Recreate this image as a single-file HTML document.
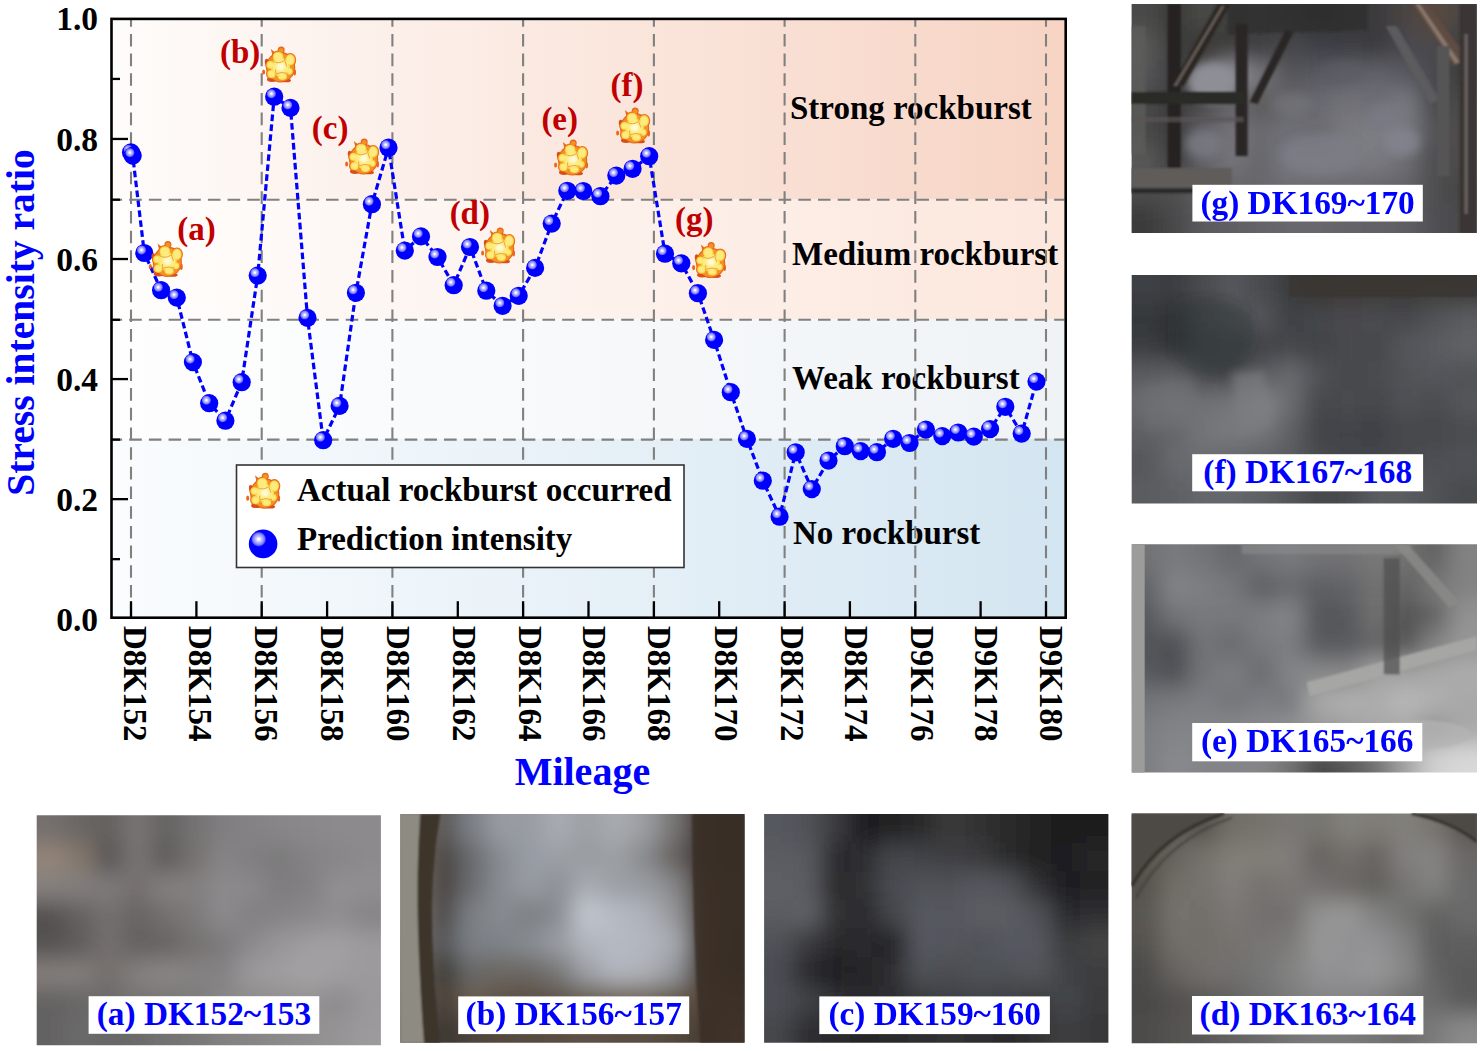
<!DOCTYPE html>
<html><head><meta charset="utf-8"><title>Rockburst prediction</title>
<style>
html,body{margin:0;padding:0;background:#fff;}
body{width:1480px;height:1051px;overflow:hidden;position:relative;font-family:"Liberation Serif",serif;}
svg{position:absolute;left:0;top:0;}
text{font-family:"Liberation Serif",serif;font-weight:bold;}
</style></head><body>
<svg width="1480" height="1051" viewBox="0 0 1480 1051">
<defs>
<linearGradient id="gS" x1="0" x2="1" y1="0" y2="0"><stop offset="0" stop-color="#fefcfb"/><stop offset="0.3" stop-color="#fcefe9"/><stop offset="1" stop-color="#f7d4c4"/></linearGradient>
<linearGradient id="gM" x1="0" x2="1" y1="0" y2="0"><stop offset="0" stop-color="#fffefd"/><stop offset="0.3" stop-color="#fdf6f2"/><stop offset="1" stop-color="#fce7dd"/></linearGradient>
<linearGradient id="gW" x1="0" x2="1" y1="0" y2="0"><stop offset="0" stop-color="#fefefe"/><stop offset="1" stop-color="#eff3f6"/></linearGradient>
<linearGradient id="gN" x1="0" x2="1" y1="0" y2="0"><stop offset="0" stop-color="#fafcfe"/><stop offset="0.45" stop-color="#e9f2f8"/><stop offset="1" stop-color="#d3e5f1"/></linearGradient>
<radialGradient id="sph" cx="0.345" cy="0.335" r="0.27">
<stop offset="0" stop-color="#ffffff"/><stop offset="0.14" stop-color="#f8f8ff"/><stop offset="0.35" stop-color="#c4c4ff"/><stop offset="0.6" stop-color="#9a9aff"/><stop offset="0.8" stop-color="#6c6cff"/><stop offset="0.93" stop-color="#1c1cff"/><stop offset="1" stop-color="#0000ff"/></radialGradient>
<radialGradient id="boomc" cx="0.5" cy="0.5" r="0.5">
<stop offset="0" stop-color="#fffbe0"/><stop offset="0.5" stop-color="#fef6c0"/><stop offset="1" stop-color="#fcec80" stop-opacity="0"/></radialGradient>
<filter id="bsoft" x="-10%" y="-10%" width="120%" height="120%"><feGaussianBlur stdDeviation="0.45"/></filter>
<symbol id="boom" viewBox="0 0 36 38" overflow="visible"><g filter="url(#bsoft)"><g fill="#e8661a"><ellipse cx="19.6" cy="21.6" rx="14.6" ry="15.2"/><ellipse cx="17.2" cy="11.2" rx="6.6" ry="6.4"/><ellipse cx="29.2" cy="14.2" rx="6.0" ry="7.0"/><ellipse cx="9.4" cy="19.2" rx="5.2" ry="5.2"/><ellipse cx="10.6" cy="28.2" rx="5.6" ry="5.4"/><ellipse cx="21.4" cy="30.8" rx="6.0" ry="4.8"/><ellipse cx="28.2" cy="25.6" rx="4.8" ry="4.8"/><circle cx="20.2" cy="4.3" r="3.5"/><path d="M9.8 3.3 L14.8 7.4 L11.6 9.8Z"/><ellipse cx="2.6" cy="26.3" rx="1.5" ry="2.6"/><ellipse cx="33.6" cy="26.5" rx="1.4" ry="3.2"/></g><g fill="#d8501a"><ellipse cx="11" cy="33.8" rx="5" ry="2.4"/><ellipse cx="25.5" cy="34.8" rx="4.5" ry="1.8"/><ellipse cx="5.6" cy="16" rx="1.8" ry="3"/></g><g fill="#f39026"><ellipse cx="19.6" cy="21.8" rx="13.4" ry="14.0"/><ellipse cx="17.2" cy="11.2" rx="5.8" ry="5.6"/><ellipse cx="29.2" cy="14.2" rx="5.2" ry="6.2"/><ellipse cx="9.4" cy="19.2" rx="4.4" ry="4.4"/><ellipse cx="10.6" cy="28.2" rx="4.8" ry="4.6"/><ellipse cx="21.4" cy="30.8" rx="5.2" ry="4.0"/><ellipse cx="28.2" cy="25.6" rx="4.0" ry="4.0"/><circle cx="20.2" cy="4.6" r="2.4"/></g><g fill="#f9dc50"><ellipse cx="17.2" cy="11.2" rx="5.2" ry="5.0"/><ellipse cx="29.2" cy="14.2" rx="4.6" ry="5.6"/><ellipse cx="9.4" cy="19.2" rx="3.8" ry="3.8"/><ellipse cx="10.6" cy="28.2" rx="4.2" ry="4.0"/><ellipse cx="21.4" cy="30.8" rx="4.6" ry="3.4"/><ellipse cx="28.2" cy="25.6" rx="3.4" ry="3.4"/><circle cx="19.4" cy="21.2" r="9.6"/></g><g fill="#fcec80"><ellipse cx="17.2" cy="11.2" rx="4.0" ry="3.8"/><ellipse cx="29.2" cy="14.2" rx="3.4" ry="4.4"/><ellipse cx="9.4" cy="19.2" rx="2.6" ry="2.6"/><ellipse cx="10.6" cy="28.2" rx="3.0" ry="2.8"/><ellipse cx="21.4" cy="30.8" rx="3.4" ry="2.2"/><ellipse cx="28.2" cy="25.6" rx="2.2" ry="2.2"/><circle cx="19.6" cy="21.2" r="8"/></g><circle cx="19.8" cy="20.8" r="6.4" fill="url(#boomc)"/><g fill="none" stroke="#f29a30" stroke-width="0.9" stroke-linecap="round"><path d="M12.2 15.6 Q17 19 22.8 15.2"/><path d="M23.6 8.6 Q22.8 15 25.6 20.4"/><path d="M15.6 27.8 Q21 25.8 26.4 27.6"/><path d="M14.6 24.2 Q15.8 29 14.2 32.8"/></g></g></symbol>
<filter id="pblur" x="-20%" y="-20%" width="140%" height="140%"><feGaussianBlur stdDeviation="11"/></filter>
<filter id="dblur4" x="-20%" y="-20%" width="140%" height="140%"><feGaussianBlur stdDeviation="4"/></filter>
<filter id="dblur" x="-10%" y="-10%" width="120%" height="120%"><feGaussianBlur stdDeviation="1.3"/></filter>
<clipPath id="plotclip"><rect x="111.5" y="18.9" width="954.2" height="598.8"/></clipPath>
</defs>

<g clip-path="url(#plotclip)">
<rect x="111.5" y="18.9" width="954.2" height="180.1" fill="url(#gS)"/>
<rect x="111.5" y="199.0" width="954.2" height="120.1" fill="url(#gM)"/>
<rect x="111.5" y="319.1" width="954.2" height="120.1" fill="url(#gW)"/>
<rect x="111.5" y="439.1" width="954.2" height="178.6" fill="url(#gN)"/>
</g>
<g font-size="33" fill="#000">
<text x="790" y="118.5">Strong rockburst</text>
<text x="792" y="264.5">Medium rockburst</text>
<text x="792" y="388.9">Weak rockburst</text>
<text x="793" y="544.2">No rockburst</text>
</g>
<g stroke="#808080" stroke-width="2.1" stroke-dasharray="12.6 7.08" fill="none">
<line x1="131.0" y1="20.1" x2="131.0" y2="616.5" stroke-dashoffset="5.9"/>
<line x1="261.7" y1="20.1" x2="261.7" y2="616.5" stroke-dashoffset="5.9"/>
<line x1="392.4" y1="20.1" x2="392.4" y2="616.5" stroke-dashoffset="5.9"/>
<line x1="523.1" y1="20.1" x2="523.1" y2="616.5" stroke-dashoffset="5.9"/>
<line x1="653.9" y1="20.1" x2="653.9" y2="616.5" stroke-dashoffset="5.9"/>
<line x1="784.6" y1="20.1" x2="784.6" y2="616.5" stroke-dashoffset="5.9"/>
<line x1="915.3" y1="20.1" x2="915.3" y2="616.5" stroke-dashoffset="5.9"/>
<line x1="1046.0" y1="20.1" x2="1046.0" y2="616.5" stroke-dashoffset="5.9"/>
<line x1="112.7" y1="439.6" x2="1064.5" y2="439.6" stroke-dashoffset="3.2"/>
<line x1="112.7" y1="319.8" x2="1064.5" y2="319.8" stroke-dashoffset="3.2"/>
<line x1="112.7" y1="199.7" x2="1064.5" y2="199.7" stroke-dashoffset="3.2"/>
</g>
<g stroke="#000" stroke-width="2.3" stroke-linecap="butt">
<line x1="131.0" y1="617.7" x2="131.0" y2="601.2"/>
<line x1="196.4" y1="617.7" x2="196.4" y2="601.2"/>
<line x1="261.7" y1="617.7" x2="261.7" y2="601.2"/>
<line x1="327.1" y1="617.7" x2="327.1" y2="601.2"/>
<line x1="392.4" y1="617.7" x2="392.4" y2="601.2"/>
<line x1="457.8" y1="617.7" x2="457.8" y2="601.2"/>
<line x1="523.1" y1="617.7" x2="523.1" y2="601.2"/>
<line x1="588.5" y1="617.7" x2="588.5" y2="601.2"/>
<line x1="653.9" y1="617.7" x2="653.9" y2="601.2"/>
<line x1="719.2" y1="617.7" x2="719.2" y2="601.2"/>
<line x1="784.6" y1="617.7" x2="784.6" y2="601.2"/>
<line x1="849.9" y1="617.7" x2="849.9" y2="601.2"/>
<line x1="915.3" y1="617.7" x2="915.3" y2="601.2"/>
<line x1="980.6" y1="617.7" x2="980.6" y2="601.2"/>
<line x1="1046.0" y1="617.7" x2="1046.0" y2="601.2"/>
<line x1="111.5" y1="559.17" x2="120.0" y2="559.17"/>
<line x1="111.5" y1="499.14" x2="128.0" y2="499.14"/>
<line x1="111.5" y1="439.60" x2="120.0" y2="439.60"/>
<line x1="111.5" y1="379.08" x2="128.0" y2="379.08"/>
<line x1="111.5" y1="319.80" x2="120.0" y2="319.80"/>
<line x1="111.5" y1="259.02" x2="128.0" y2="259.02"/>
<line x1="111.5" y1="199.70" x2="120.0" y2="199.70"/>
<line x1="111.5" y1="138.96" x2="128.0" y2="138.96"/>
<line x1="111.5" y1="78.93" x2="120.0" y2="78.93"/>
</g>
<rect x="236.5" y="465" width="447.5" height="102.5" fill="#fff" stroke="#333" stroke-width="1.6"/>
<use href="#boom" x="245.1" y="471.9" width="36" height="38"/>
<circle cx="263.1" cy="543.9" r="14.3" fill="url(#sph)"/>
<g font-size="33" fill="#000"><text x="297" y="501">Actual rockburst occurred</text><text x="297" y="550.3">Prediction intensity</text></g>
<g stroke="#0000ff" stroke-width="3.2" stroke-dasharray="6.6 3.4" stroke-dashoffset="4.8" fill="none">
<line x1="131.0" y1="152.4" x2="132.7" y2="155.6"/>
<line x1="132.7" y1="155.6" x2="144.3" y2="253.0"/>
<line x1="144.3" y1="253.0" x2="161.1" y2="290.2"/>
<line x1="161.1" y1="290.2" x2="176.8" y2="297.6"/>
<line x1="176.8" y1="297.6" x2="192.9" y2="362.1"/>
<line x1="192.9" y1="362.1" x2="209.2" y2="403.2"/>
<line x1="209.2" y1="403.2" x2="225.4" y2="420.7"/>
<line x1="225.4" y1="420.7" x2="241.7" y2="382.2"/>
<line x1="241.7" y1="382.2" x2="257.7" y2="275.6"/>
<line x1="257.7" y1="275.6" x2="274.2" y2="96.7"/>
<line x1="274.2" y1="96.7" x2="290.5" y2="107.9"/>
<line x1="290.5" y1="107.9" x2="307.5" y2="317.9"/>
<line x1="307.5" y1="317.9" x2="323.2" y2="440.2"/>
<line x1="323.2" y1="440.2" x2="339.6" y2="405.9"/>
<line x1="339.6" y1="405.9" x2="355.9" y2="292.8"/>
<line x1="355.9" y1="292.8" x2="371.9" y2="204.2"/>
<line x1="371.9" y1="204.2" x2="388.5" y2="147.7"/>
<line x1="388.5" y1="147.7" x2="404.8" y2="250.6"/>
<line x1="404.8" y1="250.6" x2="421.0" y2="236.4"/>
<line x1="421.0" y1="236.4" x2="437.5" y2="257.0"/>
<line x1="437.5" y1="257.0" x2="453.7" y2="285.2"/>
<line x1="453.7" y1="285.2" x2="470.0" y2="247.0"/>
<line x1="470.0" y1="247.0" x2="486.3" y2="290.7"/>
<line x1="486.3" y1="290.7" x2="502.6" y2="305.8"/>
<line x1="502.6" y1="305.8" x2="518.7" y2="295.8"/>
<line x1="518.7" y1="295.8" x2="535.1" y2="267.9"/>
<line x1="535.1" y1="267.9" x2="551.7" y2="223.6"/>
<line x1="551.7" y1="223.6" x2="567.3" y2="190.8"/>
<line x1="567.3" y1="190.8" x2="583.3" y2="191.0"/>
<line x1="583.3" y1="191.0" x2="600.4" y2="196.2"/>
<line x1="600.4" y1="196.2" x2="616.3" y2="175.6"/>
<line x1="616.3" y1="175.6" x2="632.6" y2="168.8"/>
<line x1="632.6" y1="168.8" x2="649.2" y2="156.2"/>
<line x1="649.2" y1="156.2" x2="665.0" y2="253.7"/>
<line x1="665.0" y1="253.7" x2="681.3" y2="263.3"/>
<line x1="681.3" y1="263.3" x2="697.9" y2="293.2"/>
<line x1="697.9" y1="293.2" x2="714.1" y2="339.9"/>
<line x1="714.1" y1="339.9" x2="730.8" y2="392.2"/>
<line x1="730.8" y1="392.2" x2="746.9" y2="438.9"/>
<line x1="746.9" y1="438.9" x2="762.8" y2="480.7"/>
<line x1="762.8" y1="480.7" x2="779.6" y2="516.7"/>
<line x1="779.6" y1="516.7" x2="795.7" y2="452.3"/>
<line x1="795.7" y1="452.3" x2="811.8" y2="489.1"/>
<line x1="811.8" y1="489.1" x2="828.5" y2="460.6"/>
<line x1="828.5" y1="460.6" x2="844.8" y2="446.2"/>
<line x1="844.8" y1="446.2" x2="860.7" y2="451.1"/>
<line x1="860.7" y1="451.1" x2="876.9" y2="452.2"/>
<line x1="876.9" y1="452.2" x2="893.2" y2="438.8"/>
<line x1="893.2" y1="438.8" x2="909.6" y2="443.0"/>
<line x1="909.6" y1="443.0" x2="925.9" y2="429.6"/>
<line x1="925.9" y1="429.6" x2="942.3" y2="436.1"/>
<line x1="942.3" y1="436.1" x2="958.2" y2="432.5"/>
<line x1="958.2" y1="432.5" x2="973.8" y2="436.6"/>
<line x1="973.8" y1="436.6" x2="990.1" y2="429.1"/>
<line x1="990.1" y1="429.1" x2="1005.3" y2="406.8"/>
<line x1="1005.3" y1="406.8" x2="1021.7" y2="433.6"/>
<line x1="1021.7" y1="433.6" x2="1036.5" y2="381.6"/>
</g>
<circle cx="131.0" cy="152.4" r="9.1" fill="url(#sph)"/>
<circle cx="132.7" cy="155.6" r="9.1" fill="url(#sph)"/>
<circle cx="144.3" cy="253.0" r="9.1" fill="url(#sph)"/>
<circle cx="161.1" cy="290.2" r="9.1" fill="url(#sph)"/>
<circle cx="176.8" cy="297.6" r="9.1" fill="url(#sph)"/>
<circle cx="192.9" cy="362.1" r="9.1" fill="url(#sph)"/>
<circle cx="209.2" cy="403.2" r="9.1" fill="url(#sph)"/>
<circle cx="225.4" cy="420.7" r="9.1" fill="url(#sph)"/>
<circle cx="241.7" cy="382.2" r="9.1" fill="url(#sph)"/>
<circle cx="257.7" cy="275.6" r="9.1" fill="url(#sph)"/>
<circle cx="274.2" cy="96.7" r="9.1" fill="url(#sph)"/>
<circle cx="290.5" cy="107.9" r="9.1" fill="url(#sph)"/>
<circle cx="307.5" cy="317.9" r="9.1" fill="url(#sph)"/>
<circle cx="323.2" cy="440.2" r="9.1" fill="url(#sph)"/>
<circle cx="339.6" cy="405.9" r="9.1" fill="url(#sph)"/>
<circle cx="355.9" cy="292.8" r="9.1" fill="url(#sph)"/>
<circle cx="371.9" cy="204.2" r="9.1" fill="url(#sph)"/>
<circle cx="388.5" cy="147.7" r="9.1" fill="url(#sph)"/>
<circle cx="404.8" cy="250.6" r="9.1" fill="url(#sph)"/>
<circle cx="421.0" cy="236.4" r="9.1" fill="url(#sph)"/>
<circle cx="437.5" cy="257.0" r="9.1" fill="url(#sph)"/>
<circle cx="453.7" cy="285.2" r="9.1" fill="url(#sph)"/>
<circle cx="470.0" cy="247.0" r="9.1" fill="url(#sph)"/>
<circle cx="486.3" cy="290.7" r="9.1" fill="url(#sph)"/>
<circle cx="502.6" cy="305.8" r="9.1" fill="url(#sph)"/>
<circle cx="518.7" cy="295.8" r="9.1" fill="url(#sph)"/>
<circle cx="535.1" cy="267.9" r="9.1" fill="url(#sph)"/>
<circle cx="551.7" cy="223.6" r="9.1" fill="url(#sph)"/>
<circle cx="567.3" cy="190.8" r="9.1" fill="url(#sph)"/>
<circle cx="583.3" cy="191.0" r="9.1" fill="url(#sph)"/>
<circle cx="600.4" cy="196.2" r="9.1" fill="url(#sph)"/>
<circle cx="616.3" cy="175.6" r="9.1" fill="url(#sph)"/>
<circle cx="632.6" cy="168.8" r="9.1" fill="url(#sph)"/>
<circle cx="649.2" cy="156.2" r="9.1" fill="url(#sph)"/>
<circle cx="665.0" cy="253.7" r="9.1" fill="url(#sph)"/>
<circle cx="681.3" cy="263.3" r="9.1" fill="url(#sph)"/>
<circle cx="697.9" cy="293.2" r="9.1" fill="url(#sph)"/>
<circle cx="714.1" cy="339.9" r="9.1" fill="url(#sph)"/>
<circle cx="730.8" cy="392.2" r="9.1" fill="url(#sph)"/>
<circle cx="746.9" cy="438.9" r="9.1" fill="url(#sph)"/>
<circle cx="762.8" cy="480.7" r="9.1" fill="url(#sph)"/>
<circle cx="779.6" cy="516.7" r="9.1" fill="url(#sph)"/>
<circle cx="795.7" cy="452.3" r="9.1" fill="url(#sph)"/>
<circle cx="811.8" cy="489.1" r="9.1" fill="url(#sph)"/>
<circle cx="828.5" cy="460.6" r="9.1" fill="url(#sph)"/>
<circle cx="844.8" cy="446.2" r="9.1" fill="url(#sph)"/>
<circle cx="860.7" cy="451.1" r="9.1" fill="url(#sph)"/>
<circle cx="876.9" cy="452.2" r="9.1" fill="url(#sph)"/>
<circle cx="893.2" cy="438.8" r="9.1" fill="url(#sph)"/>
<circle cx="909.6" cy="443.0" r="9.1" fill="url(#sph)"/>
<circle cx="925.9" cy="429.6" r="9.1" fill="url(#sph)"/>
<circle cx="942.3" cy="436.1" r="9.1" fill="url(#sph)"/>
<circle cx="958.2" cy="432.5" r="9.1" fill="url(#sph)"/>
<circle cx="973.8" cy="436.6" r="9.1" fill="url(#sph)"/>
<circle cx="990.1" cy="429.1" r="9.1" fill="url(#sph)"/>
<circle cx="1005.3" cy="406.8" r="9.1" fill="url(#sph)"/>
<circle cx="1021.7" cy="433.6" r="9.1" fill="url(#sph)"/>
<circle cx="1036.5" cy="381.6" r="9.1" fill="url(#sph)"/>
<use href="#boom" x="147.7" y="240.2" width="36" height="38"/>
<use href="#boom" x="261.0" y="45.7" width="36" height="38"/>
<use href="#boom" x="344.0" y="137.7" width="36" height="38"/>
<use href="#boom" x="480.0" y="226.7" width="36" height="38"/>
<use href="#boom" x="553.0" y="138.7" width="36" height="38"/>
<use href="#boom" x="615.0" y="106.7" width="36" height="38"/>
<use href="#boom" x="691.0" y="241.3" width="36" height="38"/>
<g font-size="33" fill="#c00000" text-anchor="middle">
<text x="196.6" y="239.6">(a)</text>
<text x="240.2" y="62.9">(b)</text>
<text x="330.1" y="138.8">(c)</text>
<text x="469.8" y="223.8">(d)</text>
<text x="559.7" y="129.6">(e)</text>
<text x="627.1" y="95.8">(f)</text>
<text x="694.3" y="230.3">(g)</text>
</g>
<rect x="111.5" y="18.9" width="954.2" height="598.8" fill="none" stroke="#000" stroke-width="2.6"/>
<g font-size="33.5" fill="#000" text-anchor="end">
<text x="98" y="630.7">0.0</text>
<text x="98" y="510.6">0.2</text>
<text x="98" y="390.6">0.4</text>
<text x="98" y="270.5">0.6</text>
<text x="98" y="150.5">0.8</text>
<text x="98" y="30.4">1.0</text>
</g>
<g font-size="33" fill="#000">
<text transform="translate(135.4,626) rotate(90)" x="0" y="0" dy="0.34em">D8K152</text>
<text transform="translate(200.5,626) rotate(90)" x="0" y="0" dy="0.34em">D8K154</text>
<text transform="translate(266.5,626) rotate(90)" x="0" y="0" dy="0.34em">D8K156</text>
<text transform="translate(331.8,626) rotate(90)" x="0" y="0" dy="0.34em">D8K158</text>
<text transform="translate(397.8,626) rotate(90)" x="0" y="0" dy="0.34em">D8K160</text>
<text transform="translate(464.1,626) rotate(90)" x="0" y="0" dy="0.34em">D8K162</text>
<text transform="translate(529.8,626) rotate(90)" x="0" y="0" dy="0.34em">D8K164</text>
<text transform="translate(593.9,626) rotate(90)" x="0" y="0" dy="0.34em">D8K166</text>
<text transform="translate(659.5,626) rotate(90)" x="0" y="0" dy="0.34em">D8K168</text>
<text transform="translate(726.3,626) rotate(90)" x="0" y="0" dy="0.34em">D8K170</text>
<text transform="translate(792.1,626) rotate(90)" x="0" y="0" dy="0.34em">D8K172</text>
<text transform="translate(856.2,626) rotate(90)" x="0" y="0" dy="0.34em">D8K174</text>
<text transform="translate(921.8,626) rotate(90)" x="0" y="0" dy="0.34em">D9K176</text>
<text transform="translate(986.4,626) rotate(90)" x="0" y="0" dy="0.34em">D9K178</text>
<text transform="translate(1051.3,626) rotate(90)" x="0" y="0" dy="0.34em">D9K180</text>
</g>
<text x="582.4" y="784.8" font-size="40" fill="#0000ff" text-anchor="middle">Mileage</text>
<text transform="translate(33.5,322.5) rotate(-90)" font-size="39.6" fill="#0000ff" text-anchor="middle">Stress intensity ratio</text>
<clipPath id="pcg"><rect x="1131.6" y="4.0" width="345.2" height="229.0"/></clipPath>
<g clip-path="url(#pcg)"><g filter="url(#pblur)">
<rect x="1091.6" y="-36.0" width="69.4" height="69.2" fill="#4a4a48"/>
<rect x="1160.4" y="-36.0" width="29.4" height="69.2" fill="#3a3a38"/>
<rect x="1189.1" y="-36.0" width="29.4" height="69.2" fill="#4a4846"/>
<rect x="1217.9" y="-36.0" width="29.4" height="69.2" fill="#3e3e3e"/>
<rect x="1246.7" y="-36.0" width="29.4" height="69.2" fill="#404040"/>
<rect x="1275.4" y="-36.0" width="29.4" height="69.2" fill="#3a3a3a"/>
<rect x="1304.2" y="-36.0" width="29.4" height="69.2" fill="#2e2e2e"/>
<rect x="1333.0" y="-36.0" width="29.4" height="69.2" fill="#383838"/>
<rect x="1361.7" y="-36.0" width="29.4" height="69.2" fill="#3a3a3e"/>
<rect x="1390.5" y="-36.0" width="29.4" height="69.2" fill="#4a4442"/>
<rect x="1419.3" y="-36.0" width="29.4" height="69.2" fill="#5a4a40"/>
<rect x="1448.0" y="-36.0" width="69.4" height="69.2" fill="#4a4644"/>
<rect x="1091.6" y="32.6" width="69.4" height="29.2" fill="#5a5a58"/>
<rect x="1160.4" y="32.6" width="29.4" height="29.2" fill="#3a3a3a"/>
<rect x="1189.1" y="32.6" width="29.4" height="29.2" fill="#3a3836"/>
<rect x="1217.9" y="32.6" width="29.4" height="29.2" fill="#3a3a3a"/>
<rect x="1246.7" y="32.6" width="29.4" height="29.2" fill="#3e3e40"/>
<rect x="1275.4" y="32.6" width="29.4" height="29.2" fill="#4a4a4e"/>
<rect x="1304.2" y="32.6" width="29.4" height="29.2" fill="#3e4046"/>
<rect x="1333.0" y="32.6" width="29.4" height="29.2" fill="#3e3e44"/>
<rect x="1361.7" y="32.6" width="29.4" height="29.2" fill="#3a3a3e"/>
<rect x="1390.5" y="32.6" width="29.4" height="29.2" fill="#4a4a50"/>
<rect x="1419.3" y="32.6" width="29.4" height="29.2" fill="#4a4a4e"/>
<rect x="1448.0" y="32.6" width="69.4" height="29.2" fill="#404040"/>
<rect x="1091.6" y="61.2" width="69.4" height="29.2" fill="#55555a"/>
<rect x="1160.4" y="61.2" width="29.4" height="29.2" fill="#3e3e3e"/>
<rect x="1189.1" y="61.2" width="29.4" height="29.2" fill="#545456"/>
<rect x="1217.9" y="61.2" width="29.4" height="29.2" fill="#94949a"/>
<rect x="1246.7" y="61.2" width="29.4" height="29.2" fill="#74747a"/>
<rect x="1275.4" y="61.2" width="29.4" height="29.2" fill="#545458"/>
<rect x="1304.2" y="61.2" width="29.4" height="29.2" fill="#5a5a62"/>
<rect x="1333.0" y="61.2" width="29.4" height="29.2" fill="#64646c"/>
<rect x="1361.7" y="61.2" width="29.4" height="29.2" fill="#64646c"/>
<rect x="1390.5" y="61.2" width="29.4" height="29.2" fill="#5a5a62"/>
<rect x="1419.3" y="61.2" width="29.4" height="29.2" fill="#4a4a4e"/>
<rect x="1448.0" y="61.2" width="69.4" height="29.2" fill="#3e3e3e"/>
<rect x="1091.6" y="89.9" width="69.4" height="29.2" fill="#4a4a4a"/>
<rect x="1160.4" y="89.9" width="29.4" height="29.2" fill="#3a3a3a"/>
<rect x="1189.1" y="89.9" width="29.4" height="29.2" fill="#484848"/>
<rect x="1217.9" y="89.9" width="29.4" height="29.2" fill="#646466"/>
<rect x="1246.7" y="89.9" width="29.4" height="29.2" fill="#5a5a5a"/>
<rect x="1275.4" y="89.9" width="29.4" height="29.2" fill="#6a6a70"/>
<rect x="1304.2" y="89.9" width="29.4" height="29.2" fill="#6a6a72"/>
<rect x="1333.0" y="89.9" width="29.4" height="29.2" fill="#727278"/>
<rect x="1361.7" y="89.9" width="29.4" height="29.2" fill="#6e6e76"/>
<rect x="1390.5" y="89.9" width="29.4" height="29.2" fill="#7a7a82"/>
<rect x="1419.3" y="89.9" width="29.4" height="29.2" fill="#4a4a4e"/>
<rect x="1448.0" y="89.9" width="69.4" height="29.2" fill="#4a4a4a"/>
<rect x="1091.6" y="118.5" width="69.4" height="29.2" fill="#4a4a4a"/>
<rect x="1160.4" y="118.5" width="29.4" height="29.2" fill="#3a3a3a"/>
<rect x="1189.1" y="118.5" width="29.4" height="29.2" fill="#64646a"/>
<rect x="1217.9" y="118.5" width="29.4" height="29.2" fill="#74747a"/>
<rect x="1246.7" y="118.5" width="29.4" height="29.2" fill="#6a6a6e"/>
<rect x="1275.4" y="118.5" width="29.4" height="29.2" fill="#707078"/>
<rect x="1304.2" y="118.5" width="29.4" height="29.2" fill="#6a6a70"/>
<rect x="1333.0" y="118.5" width="29.4" height="29.2" fill="#7a7a80"/>
<rect x="1361.7" y="118.5" width="29.4" height="29.2" fill="#7e7e86"/>
<rect x="1390.5" y="118.5" width="29.4" height="29.2" fill="#7a7a82"/>
<rect x="1419.3" y="118.5" width="29.4" height="29.2" fill="#555558"/>
<rect x="1448.0" y="118.5" width="69.4" height="29.2" fill="#4e4a48"/>
<rect x="1091.6" y="147.1" width="69.4" height="29.2" fill="#5a5a5a"/>
<rect x="1160.4" y="147.1" width="29.4" height="29.2" fill="#3e3e3e"/>
<rect x="1189.1" y="147.1" width="29.4" height="29.2" fill="#64646a"/>
<rect x="1217.9" y="147.1" width="29.4" height="29.2" fill="#74747a"/>
<rect x="1246.7" y="147.1" width="29.4" height="29.2" fill="#65656a"/>
<rect x="1275.4" y="147.1" width="29.4" height="29.2" fill="#7a7a82"/>
<rect x="1304.2" y="147.1" width="29.4" height="29.2" fill="#7a7a80"/>
<rect x="1333.0" y="147.1" width="29.4" height="29.2" fill="#7a7a80"/>
<rect x="1361.7" y="147.1" width="29.4" height="29.2" fill="#7a7a80"/>
<rect x="1390.5" y="147.1" width="29.4" height="29.2" fill="#6e6e74"/>
<rect x="1419.3" y="147.1" width="29.4" height="29.2" fill="#4e4e50"/>
<rect x="1448.0" y="147.1" width="69.4" height="29.2" fill="#4e4c4a"/>
<rect x="1091.6" y="175.8" width="69.4" height="29.2" fill="#4e4e4e"/>
<rect x="1160.4" y="175.8" width="29.4" height="29.2" fill="#505050"/>
<rect x="1189.1" y="175.8" width="29.4" height="29.2" fill="#5f5f64"/>
<rect x="1217.9" y="175.8" width="29.4" height="29.2" fill="#646468"/>
<rect x="1246.7" y="175.8" width="29.4" height="29.2" fill="#68686c"/>
<rect x="1275.4" y="175.8" width="29.4" height="29.2" fill="#6a6a70"/>
<rect x="1304.2" y="175.8" width="29.4" height="29.2" fill="#6a6a70"/>
<rect x="1333.0" y="175.8" width="29.4" height="29.2" fill="#68686e"/>
<rect x="1361.7" y="175.8" width="29.4" height="29.2" fill="#64646a"/>
<rect x="1390.5" y="175.8" width="29.4" height="29.2" fill="#626266"/>
<rect x="1419.3" y="175.8" width="29.4" height="29.2" fill="#505050"/>
<rect x="1448.0" y="175.8" width="69.4" height="29.2" fill="#444444"/>
<rect x="1091.6" y="204.4" width="69.4" height="69.2" fill="#3a3a3a"/>
<rect x="1160.4" y="204.4" width="29.4" height="69.2" fill="#4a4a4a"/>
<rect x="1189.1" y="204.4" width="29.4" height="69.2" fill="#5a5a5e"/>
<rect x="1217.9" y="204.4" width="29.4" height="69.2" fill="#5f5f64"/>
<rect x="1246.7" y="204.4" width="29.4" height="69.2" fill="#646468"/>
<rect x="1275.4" y="204.4" width="29.4" height="69.2" fill="#68686c"/>
<rect x="1304.2" y="204.4" width="29.4" height="69.2" fill="#68686c"/>
<rect x="1333.0" y="204.4" width="29.4" height="69.2" fill="#646468"/>
<rect x="1361.7" y="204.4" width="29.4" height="69.2" fill="#626266"/>
<rect x="1390.5" y="204.4" width="29.4" height="69.2" fill="#5f5f64"/>
<rect x="1419.3" y="204.4" width="29.4" height="69.2" fill="#505054"/>
<rect x="1448.0" y="204.4" width="69.4" height="69.2" fill="#4a4a4a"/>
</g>
<g transform="translate(1131.6,4.0)"><g filter="url(#dblur4)">
<ellipse cx="80" cy="78" rx="24" ry="20" fill="#8e8e96"/>
<ellipse cx="72" cy="140" rx="18" ry="14" fill="#7a7a82" opacity="0.8"/>
<ellipse cx="190" cy="150" rx="40" ry="20" fill="#7e7e88" opacity="0.7"/>
<ellipse cx="270" cy="138" rx="18" ry="14" fill="#84848e" opacity="0.8"/>
<ellipse cx="250" cy="112" rx="14" ry="12" fill="#7a7a84" opacity="0.7"/>
<ellipse cx="160" cy="100" rx="20" ry="10" fill="#74747c" opacity="0.6"/>
<ellipse cx="210" cy="70" rx="24" ry="12" fill="#5a5a62" opacity="0.6"/>
</g>
<g filter="url(#dblur)">
<path d="M0 22 L14 22 L14 150 L0 150Z" fill="#5e5e5c" opacity="0.7"/>


<path d="M96 0 L236 0 L236 26 L96 30Z" fill="#2e2e2e" opacity="0.75"/>
<rect x="36" y="0" width="13" height="176" fill="#252321"/>
<path d="M86 0 L99 0 L52 82 L40 82Z" fill="#2c2724"/>
<path d="M90 2 L93 2 L45 82 L42 82Z" fill="#6a625c"/>
<rect x="104" y="20" width="12" height="132" fill="#2a2826"/>
<path d="M154 26 L162 28 L126 100 L118 98Z" fill="#2a2826"/>
<rect x="0" y="88" width="112" height="12" fill="#2c2a28"/>
<rect x="0" y="113" width="112" height="5" fill="#5a5654" opacity="0.7"/>
<rect x="0" y="164" width="100" height="20" fill="#5e5c5a"/>
<rect x="0" y="184" width="100" height="5" fill="#2a2a2a"/>
<path d="M281 0 L296 0 L336 54 L322 62Z" fill="#5e4c42"/>
<path d="M284 0 L288 0 L328 58 L324 60Z" fill="#8a7a70"/>
<path d="M254 22 L265 22 L308 96 L298 100Z" fill="#5c5c5e"/>
<rect x="305" y="42" width="13" height="130" fill="#545456"/>
<rect x="328" y="0" width="17" height="229" fill="#3a3634"/>
<rect x="333" y="30" width="3" height="180" fill="#6a6462"/>
</g></g>

</g>
<rect x="1192.4" y="184.8" width="230.4" height="36.7" fill="#fff"/>
<text x="1307.6" y="213.8" font-size="33.3" fill="#0000ff" text-anchor="middle">(g) DK169~170</text>
<clipPath id="pcf"><rect x="1131.7" y="275.0" width="345.3" height="228.6"/></clipPath>
<g clip-path="url(#pcf)"><g filter="url(#pblur)">
<rect x="1091.7" y="235.0" width="69.4" height="69.2" fill="#3e4044"/>
<rect x="1160.5" y="235.0" width="29.4" height="69.2" fill="#3a3c40"/>
<rect x="1189.2" y="235.0" width="29.4" height="69.2" fill="#4a4c50"/>
<rect x="1218.0" y="235.0" width="29.4" height="69.2" fill="#55575b"/>
<rect x="1246.8" y="235.0" width="29.4" height="69.2" fill="#4a4c50"/>
<rect x="1275.6" y="235.0" width="29.4" height="69.2" fill="#3a3c3e"/>
<rect x="1304.3" y="235.0" width="29.4" height="69.2" fill="#3a3632"/>
<rect x="1333.1" y="235.0" width="29.4" height="69.2" fill="#3c3834"/>
<rect x="1361.9" y="235.0" width="29.4" height="69.2" fill="#3e3a36"/>
<rect x="1390.7" y="235.0" width="29.4" height="69.2" fill="#3c3836"/>
<rect x="1419.5" y="235.0" width="29.4" height="69.2" fill="#3e3a38"/>
<rect x="1448.2" y="235.0" width="69.4" height="69.2" fill="#3a3836"/>
<rect x="1091.7" y="303.6" width="69.4" height="29.2" fill="#35373a"/>
<rect x="1160.5" y="303.6" width="29.4" height="29.2" fill="#303234"/>
<rect x="1189.2" y="303.6" width="29.4" height="29.2" fill="#45474b"/>
<rect x="1218.0" y="303.6" width="29.4" height="29.2" fill="#4e5054"/>
<rect x="1246.8" y="303.6" width="29.4" height="29.2" fill="#55575b"/>
<rect x="1275.6" y="303.6" width="29.4" height="29.2" fill="#3e4044"/>
<rect x="1304.3" y="303.6" width="29.4" height="29.2" fill="#45474b"/>
<rect x="1333.1" y="303.6" width="29.4" height="29.2" fill="#484a4e"/>
<rect x="1361.9" y="303.6" width="29.4" height="29.2" fill="#4a4c50"/>
<rect x="1390.7" y="303.6" width="29.4" height="29.2" fill="#45474b"/>
<rect x="1419.5" y="303.6" width="29.4" height="29.2" fill="#505256"/>
<rect x="1448.2" y="303.6" width="69.4" height="29.2" fill="#5a5c60"/>
<rect x="1091.7" y="332.1" width="69.4" height="29.2" fill="#3a3c40"/>
<rect x="1160.5" y="332.1" width="29.4" height="29.2" fill="#2e3033"/>
<rect x="1189.2" y="332.1" width="29.4" height="29.2" fill="#3e4044"/>
<rect x="1218.0" y="332.1" width="29.4" height="29.2" fill="#404246"/>
<rect x="1246.8" y="332.1" width="29.4" height="29.2" fill="#404246"/>
<rect x="1275.6" y="332.1" width="29.4" height="29.2" fill="#45474b"/>
<rect x="1304.3" y="332.1" width="29.4" height="29.2" fill="#404246"/>
<rect x="1333.1" y="332.1" width="29.4" height="29.2" fill="#4a4c50"/>
<rect x="1361.9" y="332.1" width="29.4" height="29.2" fill="#45474b"/>
<rect x="1390.7" y="332.1" width="29.4" height="29.2" fill="#55575b"/>
<rect x="1419.5" y="332.1" width="29.4" height="29.2" fill="#5a5c60"/>
<rect x="1448.2" y="332.1" width="69.4" height="29.2" fill="#606266"/>
<rect x="1091.7" y="360.7" width="69.4" height="29.2" fill="#5a5c60"/>
<rect x="1160.5" y="360.7" width="29.4" height="29.2" fill="#5f6165"/>
<rect x="1189.2" y="360.7" width="29.4" height="29.2" fill="#484a4e"/>
<rect x="1218.0" y="360.7" width="29.4" height="29.2" fill="#44464a"/>
<rect x="1246.8" y="360.7" width="29.4" height="29.2" fill="#5a5c60"/>
<rect x="1275.6" y="360.7" width="29.4" height="29.2" fill="#686a6e"/>
<rect x="1304.3" y="360.7" width="29.4" height="29.2" fill="#505256"/>
<rect x="1333.1" y="360.7" width="29.4" height="29.2" fill="#45474b"/>
<rect x="1361.9" y="360.7" width="29.4" height="29.2" fill="#4a4c50"/>
<rect x="1390.7" y="360.7" width="29.4" height="29.2" fill="#505256"/>
<rect x="1419.5" y="360.7" width="29.4" height="29.2" fill="#55575b"/>
<rect x="1448.2" y="360.7" width="69.4" height="29.2" fill="#505256"/>
<rect x="1091.7" y="389.3" width="69.4" height="29.2" fill="#6a6c70"/>
<rect x="1160.5" y="389.3" width="29.4" height="29.2" fill="#74767a"/>
<rect x="1189.2" y="389.3" width="29.4" height="29.2" fill="#6f7175"/>
<rect x="1218.0" y="389.3" width="29.4" height="29.2" fill="#74767a"/>
<rect x="1246.8" y="389.3" width="29.4" height="29.2" fill="#84868a"/>
<rect x="1275.6" y="389.3" width="29.4" height="29.2" fill="#6a6c70"/>
<rect x="1304.3" y="389.3" width="29.4" height="29.2" fill="#45474b"/>
<rect x="1333.1" y="389.3" width="29.4" height="29.2" fill="#4a4c50"/>
<rect x="1361.9" y="389.3" width="29.4" height="29.2" fill="#45474b"/>
<rect x="1390.7" y="389.3" width="29.4" height="29.2" fill="#505256"/>
<rect x="1419.5" y="389.3" width="29.4" height="29.2" fill="#4a4c50"/>
<rect x="1448.2" y="389.3" width="69.4" height="29.2" fill="#55575b"/>
<rect x="1091.7" y="417.9" width="69.4" height="29.2" fill="#5f6165"/>
<rect x="1160.5" y="417.9" width="29.4" height="29.2" fill="#64666a"/>
<rect x="1189.2" y="417.9" width="29.4" height="29.2" fill="#74767a"/>
<rect x="1218.0" y="417.9" width="29.4" height="29.2" fill="#787a7e"/>
<rect x="1246.8" y="417.9" width="29.4" height="29.2" fill="#74767a"/>
<rect x="1275.6" y="417.9" width="29.4" height="29.2" fill="#5f6165"/>
<rect x="1304.3" y="417.9" width="29.4" height="29.2" fill="#404246"/>
<rect x="1333.1" y="417.9" width="29.4" height="29.2" fill="#404246"/>
<rect x="1361.9" y="417.9" width="29.4" height="29.2" fill="#3e4044"/>
<rect x="1390.7" y="417.9" width="29.4" height="29.2" fill="#45474b"/>
<rect x="1419.5" y="417.9" width="29.4" height="29.2" fill="#45474b"/>
<rect x="1448.2" y="417.9" width="69.4" height="29.2" fill="#4a4c50"/>
<rect x="1091.7" y="446.5" width="69.4" height="29.2" fill="#54565a"/>
<rect x="1160.5" y="446.5" width="29.4" height="29.2" fill="#686a6e"/>
<rect x="1189.2" y="446.5" width="29.4" height="29.2" fill="#6a6c70"/>
<rect x="1218.0" y="446.5" width="29.4" height="29.2" fill="#64666a"/>
<rect x="1246.8" y="446.5" width="29.4" height="29.2" fill="#5f6165"/>
<rect x="1275.6" y="446.5" width="29.4" height="29.2" fill="#5a5c60"/>
<rect x="1304.3" y="446.5" width="29.4" height="29.2" fill="#4a4c50"/>
<rect x="1333.1" y="446.5" width="29.4" height="29.2" fill="#45474b"/>
<rect x="1361.9" y="446.5" width="29.4" height="29.2" fill="#45474b"/>
<rect x="1390.7" y="446.5" width="29.4" height="29.2" fill="#4a4c50"/>
<rect x="1419.5" y="446.5" width="29.4" height="29.2" fill="#4e5054"/>
<rect x="1448.2" y="446.5" width="69.4" height="29.2" fill="#505256"/>
<rect x="1091.7" y="475.0" width="69.4" height="69.2" fill="#5a5c60"/>
<rect x="1160.5" y="475.0" width="29.4" height="69.2" fill="#5f6165"/>
<rect x="1189.2" y="475.0" width="29.4" height="69.2" fill="#64666a"/>
<rect x="1218.0" y="475.0" width="29.4" height="69.2" fill="#64666a"/>
<rect x="1246.8" y="475.0" width="29.4" height="69.2" fill="#5f6165"/>
<rect x="1275.6" y="475.0" width="29.4" height="69.2" fill="#54565a"/>
<rect x="1304.3" y="475.0" width="29.4" height="69.2" fill="#45474b"/>
<rect x="1333.1" y="475.0" width="29.4" height="69.2" fill="#4a4c50"/>
<rect x="1361.9" y="475.0" width="29.4" height="69.2" fill="#5a5c60"/>
<rect x="1390.7" y="475.0" width="29.4" height="69.2" fill="#5a5c60"/>
<rect x="1419.5" y="475.0" width="29.4" height="69.2" fill="#505256"/>
<rect x="1448.2" y="475.0" width="69.4" height="69.2" fill="#4a4c50"/>
</g>
<g transform="translate(1131.7,275.0)"><g filter="url(#dblur)">
<rect x="158" y="0" width="187" height="22" fill="#3a3531" opacity="0.85"/>
</g><g filter="url(#dblur4)">
<path d="M100 98 L132 96 L140 150 L108 160Z" fill="#7a7c80" opacity="0.7"/>
<path d="M10 110 L60 104 L70 150 L14 156Z" fill="#6e7074" opacity="0.5"/>
<path d="M40 30 Q80 10 120 40 Q130 80 100 100 Q60 105 40 80Z" fill="#2e3033" opacity="0.35"/>
</g></g>

</g>
<rect x="1192.2" y="454.2" width="230.9" height="37.1" fill="#fff"/>
<text x="1307.7" y="483.2" font-size="33.3" fill="#0000ff" text-anchor="middle">(f) DK167~168</text>
<clipPath id="pce"><rect x="1131.7" y="544.2" width="345.3" height="228.3"/></clipPath>
<g clip-path="url(#pce)"><g filter="url(#pblur)">
<rect x="1091.7" y="504.2" width="69.4" height="69.1" fill="#727274"/>
<rect x="1160.5" y="504.2" width="29.4" height="69.1" fill="#787a7e"/>
<rect x="1189.2" y="504.2" width="29.4" height="69.1" fill="#727478"/>
<rect x="1218.0" y="504.2" width="29.4" height="69.1" fill="#66686c"/>
<rect x="1246.8" y="504.2" width="29.4" height="69.1" fill="#727478"/>
<rect x="1275.6" y="504.2" width="29.4" height="69.1" fill="#787a7e"/>
<rect x="1304.3" y="504.2" width="29.4" height="69.1" fill="#727274"/>
<rect x="1333.1" y="504.2" width="29.4" height="69.1" fill="#727274"/>
<rect x="1361.9" y="504.2" width="29.4" height="69.1" fill="#787878"/>
<rect x="1390.7" y="504.2" width="29.4" height="69.1" fill="#727272"/>
<rect x="1419.5" y="504.2" width="29.4" height="69.1" fill="#626262"/>
<rect x="1448.2" y="504.2" width="69.4" height="69.1" fill="#828282"/>
<rect x="1091.7" y="572.7" width="69.4" height="29.1" fill="#626468"/>
<rect x="1160.5" y="572.7" width="29.4" height="29.1" fill="#828488"/>
<rect x="1189.2" y="572.7" width="29.4" height="29.1" fill="#7c7e82"/>
<rect x="1218.0" y="572.7" width="29.4" height="29.1" fill="#76787c"/>
<rect x="1246.8" y="572.7" width="29.4" height="29.1" fill="#5d5f64"/>
<rect x="1275.6" y="572.7" width="29.4" height="29.1" fill="#686a6e"/>
<rect x="1304.3" y="572.7" width="29.4" height="29.1" fill="#5d5f62"/>
<rect x="1333.1" y="572.7" width="29.4" height="29.1" fill="#626466"/>
<rect x="1361.9" y="572.7" width="29.4" height="29.1" fill="#727272"/>
<rect x="1390.7" y="572.7" width="29.4" height="29.1" fill="#626262"/>
<rect x="1419.5" y="572.7" width="29.4" height="29.1" fill="#787878"/>
<rect x="1448.2" y="572.7" width="69.4" height="29.1" fill="#828282"/>
<rect x="1091.7" y="601.3" width="69.4" height="29.1" fill="#585a5e"/>
<rect x="1160.5" y="601.3" width="29.4" height="29.1" fill="#727478"/>
<rect x="1189.2" y="601.3" width="29.4" height="29.1" fill="#787a7e"/>
<rect x="1218.0" y="601.3" width="29.4" height="29.1" fill="#76787c"/>
<rect x="1246.8" y="601.3" width="29.4" height="29.1" fill="#7c7e82"/>
<rect x="1275.6" y="601.3" width="29.4" height="29.1" fill="#828488"/>
<rect x="1304.3" y="601.3" width="29.4" height="29.1" fill="#525458"/>
<rect x="1333.1" y="601.3" width="29.4" height="29.1" fill="#56585c"/>
<rect x="1361.9" y="601.3" width="29.4" height="29.1" fill="#727272"/>
<rect x="1390.7" y="601.3" width="29.4" height="29.1" fill="#525254"/>
<rect x="1419.5" y="601.3" width="29.4" height="29.1" fill="#626262"/>
<rect x="1448.2" y="601.3" width="69.4" height="29.1" fill="#929292"/>
<rect x="1091.7" y="629.8" width="69.4" height="29.1" fill="#525458"/>
<rect x="1160.5" y="629.8" width="29.4" height="29.1" fill="#4e5054"/>
<rect x="1189.2" y="629.8" width="29.4" height="29.1" fill="#727478"/>
<rect x="1218.0" y="629.8" width="29.4" height="29.1" fill="#686a6e"/>
<rect x="1246.8" y="629.8" width="29.4" height="29.1" fill="#787a7e"/>
<rect x="1275.6" y="629.8" width="29.4" height="29.1" fill="#7c7e82"/>
<rect x="1304.3" y="629.8" width="29.4" height="29.1" fill="#585a5e"/>
<rect x="1333.1" y="629.8" width="29.4" height="29.1" fill="#585a5e"/>
<rect x="1361.9" y="629.8" width="29.4" height="29.1" fill="#666668"/>
<rect x="1390.7" y="629.8" width="29.4" height="29.1" fill="#525252"/>
<rect x="1419.5" y="629.8" width="29.4" height="29.1" fill="#828282"/>
<rect x="1448.2" y="629.8" width="69.4" height="29.1" fill="#969696"/>
<rect x="1091.7" y="658.4" width="69.4" height="29.1" fill="#585a5e"/>
<rect x="1160.5" y="658.4" width="29.4" height="29.1" fill="#4e5054"/>
<rect x="1189.2" y="658.4" width="29.4" height="29.1" fill="#727478"/>
<rect x="1218.0" y="658.4" width="29.4" height="29.1" fill="#7c7e82"/>
<rect x="1246.8" y="658.4" width="29.4" height="29.1" fill="#686a6e"/>
<rect x="1275.6" y="658.4" width="29.4" height="29.1" fill="#828488"/>
<rect x="1304.3" y="658.4" width="29.4" height="29.1" fill="#888888"/>
<rect x="1333.1" y="658.4" width="29.4" height="29.1" fill="#868688"/>
<rect x="1361.9" y="658.4" width="29.4" height="29.1" fill="#a2a2a2"/>
<rect x="1390.7" y="658.4" width="29.4" height="29.1" fill="#a2a2a2"/>
<rect x="1419.5" y="658.4" width="29.4" height="29.1" fill="#a8a8a8"/>
<rect x="1448.2" y="658.4" width="69.4" height="29.1" fill="#acacac"/>
<rect x="1091.7" y="686.9" width="69.4" height="29.1" fill="#727478"/>
<rect x="1160.5" y="686.9" width="29.4" height="29.1" fill="#787a7e"/>
<rect x="1189.2" y="686.9" width="29.4" height="29.1" fill="#7c7e82"/>
<rect x="1218.0" y="686.9" width="29.4" height="29.1" fill="#727478"/>
<rect x="1246.8" y="686.9" width="29.4" height="29.1" fill="#7c7e82"/>
<rect x="1275.6" y="686.9" width="29.4" height="29.1" fill="#76787c"/>
<rect x="1304.3" y="686.9" width="29.4" height="29.1" fill="#a8a8a8"/>
<rect x="1333.1" y="686.9" width="29.4" height="29.1" fill="#b0b0b0"/>
<rect x="1361.9" y="686.9" width="29.4" height="29.1" fill="#acacac"/>
<rect x="1390.7" y="686.9" width="29.4" height="29.1" fill="#b8b8b8"/>
<rect x="1419.5" y="686.9" width="29.4" height="29.1" fill="#b0b0b0"/>
<rect x="1448.2" y="686.9" width="69.4" height="29.1" fill="#a8a8a8"/>
<rect x="1091.7" y="715.4" width="69.4" height="29.1" fill="#7c7e82"/>
<rect x="1160.5" y="715.4" width="29.4" height="29.1" fill="#828488"/>
<rect x="1189.2" y="715.4" width="29.4" height="29.1" fill="#828488"/>
<rect x="1218.0" y="715.4" width="29.4" height="29.1" fill="#86888c"/>
<rect x="1246.8" y="715.4" width="29.4" height="29.1" fill="#888a8e"/>
<rect x="1275.6" y="715.4" width="29.4" height="29.1" fill="#909294"/>
<rect x="1304.3" y="715.4" width="29.4" height="29.1" fill="#989898"/>
<rect x="1333.1" y="715.4" width="29.4" height="29.1" fill="#a0a0a0"/>
<rect x="1361.9" y="715.4" width="29.4" height="29.1" fill="#a8a8a8"/>
<rect x="1390.7" y="715.4" width="29.4" height="29.1" fill="#a8a8a8"/>
<rect x="1419.5" y="715.4" width="29.4" height="29.1" fill="#929292"/>
<rect x="1448.2" y="715.4" width="69.4" height="29.1" fill="#a8a8a8"/>
<rect x="1091.7" y="744.0" width="69.4" height="69.1" fill="#7c7e82"/>
<rect x="1160.5" y="744.0" width="29.4" height="69.1" fill="#888a8e"/>
<rect x="1189.2" y="744.0" width="29.4" height="69.1" fill="#828488"/>
<rect x="1218.0" y="744.0" width="29.4" height="69.1" fill="#828488"/>
<rect x="1246.8" y="744.0" width="29.4" height="69.1" fill="#868688"/>
<rect x="1275.6" y="744.0" width="29.4" height="69.1" fill="#727274"/>
<rect x="1304.3" y="744.0" width="29.4" height="69.1" fill="#484848"/>
<rect x="1333.1" y="744.0" width="29.4" height="69.1" fill="#585858"/>
<rect x="1361.9" y="744.0" width="29.4" height="69.1" fill="#727272"/>
<rect x="1390.7" y="744.0" width="29.4" height="69.1" fill="#a2a2a2"/>
<rect x="1419.5" y="744.0" width="29.4" height="69.1" fill="#d0d0d0"/>
<rect x="1448.2" y="744.0" width="69.4" height="69.1" fill="#d8d8d8"/>
</g>
<g transform="translate(1131.7,544.2)"><rect x="0" y="0" width="13" height="229" fill="#9c9c9a"/></g>
<g transform="translate(1131.7,544.2)"><g filter="url(#dblur)">
<path d="M175 138 L345 92 L345 106 L178 152Z" fill="#a6a6a4"/>
<path d="M262 0 L276 0 L328 58 L318 64Z" fill="#8a8a88" opacity="0.85"/>
<rect x="252" y="14" width="16" height="116" fill="#4e4e50" opacity="0.7"/>
<rect x="110" y="0" width="170" height="10" fill="#8a8a8a" opacity="0.6"/>
<ellipse cx="290" cy="190" rx="50" ry="14" fill="#b4b4b4" opacity="0.7"/>
</g></g>

</g>
<rect x="1192.2" y="723.0" width="230.1" height="38.3" fill="#fff"/>
<text x="1307.2" y="752.0" font-size="33.3" fill="#0000ff" text-anchor="middle">(e) DK165~166</text>
<clipPath id="pcd"><rect x="1131.7" y="813.6" width="345.3" height="229.6"/></clipPath>
<g clip-path="url(#pcd)"><g filter="url(#pblur)">
<rect x="1091.7" y="773.6" width="69.4" height="69.3" fill="#5a5650"/>
<rect x="1160.5" y="773.6" width="29.4" height="69.3" fill="#625e5a"/>
<rect x="1189.2" y="773.6" width="29.4" height="69.3" fill="#56524e"/>
<rect x="1218.0" y="773.6" width="29.4" height="69.3" fill="#726e68"/>
<rect x="1246.8" y="773.6" width="29.4" height="69.3" fill="#76726c"/>
<rect x="1275.6" y="773.6" width="29.4" height="69.3" fill="#7a7874"/>
<rect x="1304.3" y="773.6" width="29.4" height="69.3" fill="#767470"/>
<rect x="1333.1" y="773.6" width="29.4" height="69.3" fill="#82807c"/>
<rect x="1361.9" y="773.6" width="29.4" height="69.3" fill="#7e7c76"/>
<rect x="1390.7" y="773.6" width="29.4" height="69.3" fill="#82807c"/>
<rect x="1419.5" y="773.6" width="29.4" height="69.3" fill="#767470"/>
<rect x="1448.2" y="773.6" width="69.4" height="69.3" fill="#5a5854"/>
<rect x="1091.7" y="842.3" width="69.4" height="29.3" fill="#5a5650"/>
<rect x="1160.5" y="842.3" width="29.4" height="29.3" fill="#66625e"/>
<rect x="1189.2" y="842.3" width="29.4" height="29.3" fill="#76726c"/>
<rect x="1218.0" y="842.3" width="29.4" height="29.3" fill="#827e78"/>
<rect x="1246.8" y="842.3" width="29.4" height="29.3" fill="#827e78"/>
<rect x="1275.6" y="842.3" width="29.4" height="29.3" fill="#827e7a"/>
<rect x="1304.3" y="842.3" width="29.4" height="29.3" fill="#66625e"/>
<rect x="1333.1" y="842.3" width="29.4" height="29.3" fill="#726e6a"/>
<rect x="1361.9" y="842.3" width="29.4" height="29.3" fill="#666460"/>
<rect x="1390.7" y="842.3" width="29.4" height="29.3" fill="#82807e"/>
<rect x="1419.5" y="842.3" width="29.4" height="29.3" fill="#868482"/>
<rect x="1448.2" y="842.3" width="69.4" height="29.3" fill="#6a6866"/>
<rect x="1091.7" y="871.0" width="69.4" height="29.3" fill="#55524e"/>
<rect x="1160.5" y="871.0" width="29.4" height="29.3" fill="#726e68"/>
<rect x="1189.2" y="871.0" width="29.4" height="29.3" fill="#76726e"/>
<rect x="1218.0" y="871.0" width="29.4" height="29.3" fill="#827e7a"/>
<rect x="1246.8" y="871.0" width="29.4" height="29.3" fill="#76726e"/>
<rect x="1275.6" y="871.0" width="29.4" height="29.3" fill="#7a7874"/>
<rect x="1304.3" y="871.0" width="29.4" height="29.3" fill="#72706e"/>
<rect x="1333.1" y="871.0" width="29.4" height="29.3" fill="#6a6864"/>
<rect x="1361.9" y="871.0" width="29.4" height="29.3" fill="#62605c"/>
<rect x="1390.7" y="871.0" width="29.4" height="29.3" fill="#767472"/>
<rect x="1419.5" y="871.0" width="29.4" height="29.3" fill="#828280"/>
<rect x="1448.2" y="871.0" width="69.4" height="29.3" fill="#6a6a6a"/>
<rect x="1091.7" y="899.7" width="69.4" height="29.3" fill="#5a5652"/>
<rect x="1160.5" y="899.7" width="29.4" height="29.3" fill="#76726e"/>
<rect x="1189.2" y="899.7" width="29.4" height="29.3" fill="#726e6a"/>
<rect x="1218.0" y="899.7" width="29.4" height="29.3" fill="#7a7874"/>
<rect x="1246.8" y="899.7" width="29.4" height="29.3" fill="#72706e"/>
<rect x="1275.6" y="899.7" width="29.4" height="29.3" fill="#72706e"/>
<rect x="1304.3" y="899.7" width="29.4" height="29.3" fill="#929292"/>
<rect x="1333.1" y="899.7" width="29.4" height="29.3" fill="#969696"/>
<rect x="1361.9" y="899.7" width="29.4" height="29.3" fill="#828282"/>
<rect x="1390.7" y="899.7" width="29.4" height="29.3" fill="#727270"/>
<rect x="1419.5" y="899.7" width="29.4" height="29.3" fill="#626262"/>
<rect x="1448.2" y="899.7" width="69.4" height="29.3" fill="#6a6a6a"/>
<rect x="1091.7" y="928.4" width="69.4" height="29.3" fill="#55524e"/>
<rect x="1160.5" y="928.4" width="29.4" height="29.3" fill="#726e6a"/>
<rect x="1189.2" y="928.4" width="29.4" height="29.3" fill="#726e6a"/>
<rect x="1218.0" y="928.4" width="29.4" height="29.3" fill="#76726e"/>
<rect x="1246.8" y="928.4" width="29.4" height="29.3" fill="#767472"/>
<rect x="1275.6" y="928.4" width="29.4" height="29.3" fill="#7c7a76"/>
<rect x="1304.3" y="928.4" width="29.4" height="29.3" fill="#969698"/>
<rect x="1333.1" y="928.4" width="29.4" height="29.3" fill="#929294"/>
<rect x="1361.9" y="928.4" width="29.4" height="29.3" fill="#929294"/>
<rect x="1390.7" y="928.4" width="29.4" height="29.3" fill="#828282"/>
<rect x="1419.5" y="928.4" width="29.4" height="29.3" fill="#5d5d5d"/>
<rect x="1448.2" y="928.4" width="69.4" height="29.3" fill="#5e5e5e"/>
<rect x="1091.7" y="957.1" width="69.4" height="29.3" fill="#4e4c48"/>
<rect x="1160.5" y="957.1" width="29.4" height="29.3" fill="#666460"/>
<rect x="1189.2" y="957.1" width="29.4" height="29.3" fill="#72706c"/>
<rect x="1218.0" y="957.1" width="29.4" height="29.3" fill="#72706e"/>
<rect x="1246.8" y="957.1" width="29.4" height="29.3" fill="#767676"/>
<rect x="1275.6" y="957.1" width="29.4" height="29.3" fill="#828282"/>
<rect x="1304.3" y="957.1" width="29.4" height="29.3" fill="#929294"/>
<rect x="1333.1" y="957.1" width="29.4" height="29.3" fill="#929294"/>
<rect x="1361.9" y="957.1" width="29.4" height="29.3" fill="#969698"/>
<rect x="1390.7" y="957.1" width="29.4" height="29.3" fill="#888888"/>
<rect x="1419.5" y="957.1" width="29.4" height="29.3" fill="#626262"/>
<rect x="1448.2" y="957.1" width="69.4" height="29.3" fill="#5a5a5a"/>
<rect x="1091.7" y="985.8" width="69.4" height="29.3" fill="#4a4846"/>
<rect x="1160.5" y="985.8" width="29.4" height="29.3" fill="#52504e"/>
<rect x="1189.2" y="985.8" width="29.4" height="29.3" fill="#5a5856"/>
<rect x="1218.0" y="985.8" width="29.4" height="29.3" fill="#626260"/>
<rect x="1246.8" y="985.8" width="29.4" height="29.3" fill="#6e6e6e"/>
<rect x="1275.6" y="985.8" width="29.4" height="29.3" fill="#7a7a7a"/>
<rect x="1304.3" y="985.8" width="29.4" height="29.3" fill="#848486"/>
<rect x="1333.1" y="985.8" width="29.4" height="29.3" fill="#868688"/>
<rect x="1361.9" y="985.8" width="29.4" height="29.3" fill="#808082"/>
<rect x="1390.7" y="985.8" width="29.4" height="29.3" fill="#707070"/>
<rect x="1419.5" y="985.8" width="29.4" height="29.3" fill="#6a6a6a"/>
<rect x="1448.2" y="985.8" width="69.4" height="29.3" fill="#5a5a5a"/>
<rect x="1091.7" y="1014.5" width="69.4" height="69.3" fill="#4e4c4a"/>
<rect x="1160.5" y="1014.5" width="29.4" height="69.3" fill="#555350"/>
<rect x="1189.2" y="1014.5" width="29.4" height="69.3" fill="#5a5856"/>
<rect x="1218.0" y="1014.5" width="29.4" height="69.3" fill="#626260"/>
<rect x="1246.8" y="1014.5" width="29.4" height="69.3" fill="#6a6a6a"/>
<rect x="1275.6" y="1014.5" width="29.4" height="69.3" fill="#747474"/>
<rect x="1304.3" y="1014.5" width="29.4" height="69.3" fill="#7a7a7a"/>
<rect x="1333.1" y="1014.5" width="29.4" height="69.3" fill="#7a7a7a"/>
<rect x="1361.9" y="1014.5" width="29.4" height="69.3" fill="#747474"/>
<rect x="1390.7" y="1014.5" width="29.4" height="69.3" fill="#6e6e6e"/>
<rect x="1419.5" y="1014.5" width="29.4" height="69.3" fill="#7a7a7a"/>
<rect x="1448.2" y="1014.5" width="69.4" height="69.3" fill="#8a8a8a"/>
</g>
<g transform="translate(1131.7,813.6)"><g filter="url(#dblur)">
<path d="M0 0 L92 0 Q30 20 0 72Z" fill="#4e4a45"/>
<path d="M92 0 Q30 20 0 72" fill="none" stroke="#34302c" stroke-width="3"/>
<path d="M100 4 Q36 26 4 84" fill="none" stroke="#3e3a36" stroke-width="2" opacity="0.7"/>
<path d="M280 0 L345 0 L345 28 Q320 8 280 0Z" fill="#4e4a45"/>
<path d="M280 0 Q320 8 345 28" fill="none" stroke="#34302c" stroke-width="2.5"/>
</g></g>

</g>
<rect x="1192.0" y="996.0" width="231.4" height="38.5" fill="#fff"/>
<text x="1307.7" y="1025.0" font-size="33.3" fill="#0000ff" text-anchor="middle">(d) DK163~164</text>
<clipPath id="pca"><rect x="36.7" y="815.2" width="344.2" height="230.0"/></clipPath>
<g clip-path="url(#pca)"><g filter="url(#pblur)">
<rect x="-3.3" y="775.2" width="69.3" height="69.3" fill="#74706e"/>
<rect x="65.4" y="775.2" width="29.3" height="69.3" fill="#6a6664"/>
<rect x="94.1" y="775.2" width="29.3" height="69.3" fill="#64605e"/>
<rect x="122.8" y="775.2" width="29.3" height="69.3" fill="#787472"/>
<rect x="151.4" y="775.2" width="29.3" height="69.3" fill="#646262"/>
<rect x="180.1" y="775.2" width="29.3" height="69.3" fill="#747272"/>
<rect x="208.8" y="775.2" width="29.3" height="69.3" fill="#807e80"/>
<rect x="237.5" y="775.2" width="29.3" height="69.3" fill="#848284"/>
<rect x="266.2" y="775.2" width="29.3" height="69.3" fill="#888688"/>
<rect x="294.8" y="775.2" width="29.3" height="69.3" fill="#8a888a"/>
<rect x="323.5" y="775.2" width="29.3" height="69.3" fill="#8c8a8c"/>
<rect x="352.2" y="775.2" width="69.3" height="69.3" fill="#8c8a8c"/>
<rect x="-3.3" y="844.0" width="69.3" height="29.4" fill="#948478"/>
<rect x="65.4" y="844.0" width="29.3" height="29.4" fill="#84786e"/>
<rect x="94.1" y="844.0" width="29.3" height="29.4" fill="#585452"/>
<rect x="122.8" y="844.0" width="29.3" height="29.4" fill="#787472"/>
<rect x="151.4" y="844.0" width="29.3" height="29.4" fill="#5f5c5c"/>
<rect x="180.1" y="844.0" width="29.3" height="29.4" fill="#747270"/>
<rect x="208.8" y="844.0" width="29.3" height="29.4" fill="#868486"/>
<rect x="237.5" y="844.0" width="29.3" height="29.4" fill="#807e80"/>
<rect x="266.2" y="844.0" width="29.3" height="29.4" fill="#7c7a7c"/>
<rect x="294.8" y="844.0" width="29.3" height="29.4" fill="#848284"/>
<rect x="323.5" y="844.0" width="29.3" height="29.4" fill="#888688"/>
<rect x="352.2" y="844.0" width="69.3" height="29.4" fill="#8c8a8c"/>
<rect x="-3.3" y="872.7" width="69.3" height="29.4" fill="#84807e"/>
<rect x="65.4" y="872.7" width="29.3" height="29.4" fill="#827e7c"/>
<rect x="94.1" y="872.7" width="29.3" height="29.4" fill="#7e7a7a"/>
<rect x="122.8" y="872.7" width="29.3" height="29.4" fill="#74706e"/>
<rect x="151.4" y="872.7" width="29.3" height="29.4" fill="#84807e"/>
<rect x="180.1" y="872.7" width="29.3" height="29.4" fill="#828080"/>
<rect x="208.8" y="872.7" width="29.3" height="29.4" fill="#8c8a8c"/>
<rect x="237.5" y="872.7" width="29.3" height="29.4" fill="#8a888a"/>
<rect x="266.2" y="872.7" width="29.3" height="29.4" fill="#7e7c7e"/>
<rect x="294.8" y="872.7" width="29.3" height="29.4" fill="#828082"/>
<rect x="323.5" y="872.7" width="29.3" height="29.4" fill="#929092"/>
<rect x="352.2" y="872.7" width="69.3" height="29.4" fill="#908e90"/>
<rect x="-3.3" y="901.5" width="69.3" height="29.4" fill="#545050"/>
<rect x="65.4" y="901.5" width="29.3" height="29.4" fill="#646060"/>
<rect x="94.1" y="901.5" width="29.3" height="29.4" fill="#74706e"/>
<rect x="122.8" y="901.5" width="29.3" height="29.4" fill="#686462"/>
<rect x="151.4" y="901.5" width="29.3" height="29.4" fill="#74706e"/>
<rect x="180.1" y="901.5" width="29.3" height="29.4" fill="#7c7a7a"/>
<rect x="208.8" y="901.5" width="29.3" height="29.4" fill="#8c8a8c"/>
<rect x="237.5" y="901.5" width="29.3" height="29.4" fill="#828082"/>
<rect x="266.2" y="901.5" width="29.3" height="29.4" fill="#868486"/>
<rect x="294.8" y="901.5" width="29.3" height="29.4" fill="#8a888a"/>
<rect x="323.5" y="901.5" width="29.3" height="29.4" fill="#908e90"/>
<rect x="352.2" y="901.5" width="69.3" height="29.4" fill="#868486"/>
<rect x="-3.3" y="930.2" width="69.3" height="29.4" fill="#545252"/>
<rect x="65.4" y="930.2" width="29.3" height="29.4" fill="#5f5c5c"/>
<rect x="94.1" y="930.2" width="29.3" height="29.4" fill="#74706e"/>
<rect x="122.8" y="930.2" width="29.3" height="29.4" fill="#64605e"/>
<rect x="151.4" y="930.2" width="29.3" height="29.4" fill="#686462"/>
<rect x="180.1" y="930.2" width="29.3" height="29.4" fill="#747270"/>
<rect x="208.8" y="930.2" width="29.3" height="29.4" fill="#7c7a7c"/>
<rect x="237.5" y="930.2" width="29.3" height="29.4" fill="#8c8a8c"/>
<rect x="266.2" y="930.2" width="29.3" height="29.4" fill="#989698"/>
<rect x="294.8" y="930.2" width="29.3" height="29.4" fill="#a09ea0"/>
<rect x="323.5" y="930.2" width="29.3" height="29.4" fill="#a2a0a2"/>
<rect x="352.2" y="930.2" width="69.3" height="29.4" fill="#9c9a9c"/>
<rect x="-3.3" y="959.0" width="69.3" height="29.4" fill="#847e7c"/>
<rect x="65.4" y="959.0" width="29.3" height="29.4" fill="#847e7c"/>
<rect x="94.1" y="959.0" width="29.3" height="29.4" fill="#746e6c"/>
<rect x="122.8" y="959.0" width="29.3" height="29.4" fill="#84807e"/>
<rect x="151.4" y="959.0" width="29.3" height="29.4" fill="#8a8684"/>
<rect x="180.1" y="959.0" width="29.3" height="29.4" fill="#848282"/>
<rect x="208.8" y="959.0" width="29.3" height="29.4" fill="#848284"/>
<rect x="237.5" y="959.0" width="29.3" height="29.4" fill="#9c9a9c"/>
<rect x="266.2" y="959.0" width="29.3" height="29.4" fill="#a09ea0"/>
<rect x="294.8" y="959.0" width="29.3" height="29.4" fill="#a4a2a4"/>
<rect x="323.5" y="959.0" width="29.3" height="29.4" fill="#a09ea0"/>
<rect x="352.2" y="959.0" width="69.3" height="29.4" fill="#9c9a9c"/>
<rect x="-3.3" y="987.7" width="69.3" height="29.4" fill="#646262"/>
<rect x="65.4" y="987.7" width="29.3" height="29.4" fill="#686666"/>
<rect x="94.1" y="987.7" width="29.3" height="29.4" fill="#6c6a6a"/>
<rect x="122.8" y="987.7" width="29.3" height="29.4" fill="#747272"/>
<rect x="151.4" y="987.7" width="29.3" height="29.4" fill="#787676"/>
<rect x="180.1" y="987.7" width="29.3" height="29.4" fill="#7c7a7a"/>
<rect x="208.8" y="987.7" width="29.3" height="29.4" fill="#888686"/>
<rect x="237.5" y="987.7" width="29.3" height="29.4" fill="#8c8a8a"/>
<rect x="266.2" y="987.7" width="29.3" height="29.4" fill="#908e8e"/>
<rect x="294.8" y="987.7" width="29.3" height="29.4" fill="#949292"/>
<rect x="323.5" y="987.7" width="29.3" height="29.4" fill="#8c8a8c"/>
<rect x="352.2" y="987.7" width="69.3" height="29.4" fill="#9a989a"/>
<rect x="-3.3" y="1016.5" width="69.3" height="69.3" fill="#646262"/>
<rect x="65.4" y="1016.5" width="29.3" height="69.3" fill="#6c6a6a"/>
<rect x="94.1" y="1016.5" width="29.3" height="69.3" fill="#686666"/>
<rect x="122.8" y="1016.5" width="29.3" height="69.3" fill="#6c6a6a"/>
<rect x="151.4" y="1016.5" width="29.3" height="69.3" fill="#747272"/>
<rect x="180.1" y="1016.5" width="29.3" height="69.3" fill="#787676"/>
<rect x="208.8" y="1016.5" width="29.3" height="69.3" fill="#828080"/>
<rect x="237.5" y="1016.5" width="29.3" height="69.3" fill="#868484"/>
<rect x="266.2" y="1016.5" width="29.3" height="69.3" fill="#8c8a8a"/>
<rect x="294.8" y="1016.5" width="29.3" height="69.3" fill="#908e8e"/>
<rect x="323.5" y="1016.5" width="29.3" height="69.3" fill="#969496"/>
<rect x="352.2" y="1016.5" width="69.3" height="69.3" fill="#9c9a9c"/>
</g>

</g>
<rect x="88.6" y="996.2" width="230.7" height="37.6" fill="#fff"/>
<text x="203.9" y="1025.2" font-size="33.3" fill="#0000ff" text-anchor="middle">(a) DK152~153</text>
<clipPath id="pcb"><rect x="400.2" y="814.0" width="344.2" height="228.8"/></clipPath>
<g clip-path="url(#pcb)"><g filter="url(#pblur)">
<rect x="360.2" y="774.0" width="69.3" height="69.2" fill="#847c74"/>
<rect x="428.9" y="774.0" width="29.3" height="69.2" fill="#5a5654"/>
<rect x="457.6" y="774.0" width="29.3" height="69.2" fill="#7c8086"/>
<rect x="486.2" y="774.0" width="29.3" height="69.2" fill="#989ca2"/>
<rect x="514.9" y="774.0" width="29.3" height="69.2" fill="#989ca2"/>
<rect x="543.6" y="774.0" width="29.3" height="69.2" fill="#a8acb2"/>
<rect x="572.3" y="774.0" width="29.3" height="69.2" fill="#9ca0a4"/>
<rect x="601.0" y="774.0" width="29.3" height="69.2" fill="#a8acb0"/>
<rect x="629.7" y="774.0" width="29.3" height="69.2" fill="#9c9ea2"/>
<rect x="658.3" y="774.0" width="29.3" height="69.2" fill="#787674"/>
<rect x="687.0" y="774.0" width="29.3" height="69.2" fill="#3e3630"/>
<rect x="715.7" y="774.0" width="69.3" height="69.2" fill="#3a322c"/>
<rect x="360.2" y="842.6" width="69.3" height="29.2" fill="#7a746e"/>
<rect x="428.9" y="842.6" width="29.3" height="29.2" fill="#4a4440"/>
<rect x="457.6" y="842.6" width="29.3" height="29.2" fill="#686a6e"/>
<rect x="486.2" y="842.6" width="29.3" height="29.2" fill="#888c92"/>
<rect x="514.9" y="842.6" width="29.3" height="29.2" fill="#989ca4"/>
<rect x="543.6" y="842.6" width="29.3" height="29.2" fill="#9ca0a6"/>
<rect x="572.3" y="842.6" width="29.3" height="29.2" fill="#989ca0"/>
<rect x="601.0" y="842.6" width="29.3" height="29.2" fill="#9ca0a4"/>
<rect x="629.7" y="842.6" width="29.3" height="29.2" fill="#888a8c"/>
<rect x="658.3" y="842.6" width="29.3" height="29.2" fill="#686360"/>
<rect x="687.0" y="842.6" width="29.3" height="29.2" fill="#3e3630"/>
<rect x="715.7" y="842.6" width="69.3" height="29.2" fill="#3a322c"/>
<rect x="360.2" y="871.2" width="69.3" height="29.2" fill="#7e7872"/>
<rect x="428.9" y="871.2" width="29.3" height="29.2" fill="#484240"/>
<rect x="457.6" y="871.2" width="29.3" height="29.2" fill="#6a6c70"/>
<rect x="486.2" y="871.2" width="29.3" height="29.2" fill="#888c92"/>
<rect x="514.9" y="871.2" width="29.3" height="29.2" fill="#989ca2"/>
<rect x="543.6" y="871.2" width="29.3" height="29.2" fill="#8c9096"/>
<rect x="572.3" y="871.2" width="29.3" height="29.2" fill="#a8acb2"/>
<rect x="601.0" y="871.2" width="29.3" height="29.2" fill="#9ca0a6"/>
<rect x="629.7" y="871.2" width="29.3" height="29.2" fill="#989ca2"/>
<rect x="658.3" y="871.2" width="29.3" height="29.2" fill="#88888a"/>
<rect x="687.0" y="871.2" width="29.3" height="29.2" fill="#443a32"/>
<rect x="715.7" y="871.2" width="69.3" height="29.2" fill="#3e342e"/>
<rect x="360.2" y="899.8" width="69.3" height="29.2" fill="#7e7872"/>
<rect x="428.9" y="899.8" width="29.3" height="29.2" fill="#4e4a48"/>
<rect x="457.6" y="899.8" width="29.3" height="29.2" fill="#7c8084"/>
<rect x="486.2" y="899.8" width="29.3" height="29.2" fill="#888c92"/>
<rect x="514.9" y="899.8" width="29.3" height="29.2" fill="#7c8084"/>
<rect x="543.6" y="899.8" width="29.3" height="29.2" fill="#888c92"/>
<rect x="572.3" y="899.8" width="29.3" height="29.2" fill="#c2c6ce"/>
<rect x="601.0" y="899.8" width="29.3" height="29.2" fill="#b6bac2"/>
<rect x="629.7" y="899.8" width="29.3" height="29.2" fill="#aeb2ba"/>
<rect x="658.3" y="899.8" width="29.3" height="29.2" fill="#98989c"/>
<rect x="687.0" y="899.8" width="29.3" height="29.2" fill="#4a4038"/>
<rect x="715.7" y="899.8" width="69.3" height="29.2" fill="#3e342e"/>
<rect x="360.2" y="928.4" width="69.3" height="29.2" fill="#767068"/>
<rect x="428.9" y="928.4" width="29.3" height="29.2" fill="#55565a"/>
<rect x="457.6" y="928.4" width="29.3" height="29.2" fill="#7c8086"/>
<rect x="486.2" y="928.4" width="29.3" height="29.2" fill="#7e8288"/>
<rect x="514.9" y="928.4" width="29.3" height="29.2" fill="#888c92"/>
<rect x="543.6" y="928.4" width="29.3" height="29.2" fill="#989ca2"/>
<rect x="572.3" y="928.4" width="29.3" height="29.2" fill="#b2b6be"/>
<rect x="601.0" y="928.4" width="29.3" height="29.2" fill="#b6bac2"/>
<rect x="629.7" y="928.4" width="29.3" height="29.2" fill="#b2b6be"/>
<rect x="658.3" y="928.4" width="29.3" height="29.2" fill="#a8acb2"/>
<rect x="687.0" y="928.4" width="29.3" height="29.2" fill="#4a4038"/>
<rect x="715.7" y="928.4" width="69.3" height="29.2" fill="#3a302a"/>
<rect x="360.2" y="957.0" width="69.3" height="29.2" fill="#6e6860"/>
<rect x="428.9" y="957.0" width="29.3" height="29.2" fill="#3e3a36"/>
<rect x="457.6" y="957.0" width="29.3" height="29.2" fill="#686868"/>
<rect x="486.2" y="957.0" width="29.3" height="29.2" fill="#6c6862"/>
<rect x="514.9" y="957.0" width="29.3" height="29.2" fill="#6c6864"/>
<rect x="543.6" y="957.0" width="29.3" height="29.2" fill="#787878"/>
<rect x="572.3" y="957.0" width="29.3" height="29.2" fill="#9ca0a6"/>
<rect x="601.0" y="957.0" width="29.3" height="29.2" fill="#b2b6be"/>
<rect x="629.7" y="957.0" width="29.3" height="29.2" fill="#aeb2b8"/>
<rect x="658.3" y="957.0" width="29.3" height="29.2" fill="#989a9e"/>
<rect x="687.0" y="957.0" width="29.3" height="29.2" fill="#443a32"/>
<rect x="715.7" y="957.0" width="69.3" height="29.2" fill="#3a302a"/>
<rect x="360.2" y="985.6" width="69.3" height="29.2" fill="#6a645e"/>
<rect x="428.9" y="985.6" width="29.3" height="29.2" fill="#4a4038"/>
<rect x="457.6" y="985.6" width="29.3" height="29.2" fill="#6a5e50"/>
<rect x="486.2" y="985.6" width="29.3" height="29.2" fill="#5e5246"/>
<rect x="514.9" y="985.6" width="29.3" height="29.2" fill="#5a4e42"/>
<rect x="543.6" y="985.6" width="29.3" height="29.2" fill="#5e5246"/>
<rect x="572.3" y="985.6" width="29.3" height="29.2" fill="#665a4c"/>
<rect x="601.0" y="985.6" width="29.3" height="29.2" fill="#6a5e50"/>
<rect x="629.7" y="985.6" width="29.3" height="29.2" fill="#6e6252"/>
<rect x="658.3" y="985.6" width="29.3" height="29.2" fill="#605446"/>
<rect x="687.0" y="985.6" width="29.3" height="29.2" fill="#5a4a3c"/>
<rect x="715.7" y="985.6" width="69.3" height="29.2" fill="#4a3e34"/>
<rect x="360.2" y="1014.2" width="69.3" height="69.2" fill="#5a544e"/>
<rect x="428.9" y="1014.2" width="29.3" height="69.2" fill="#3a3430"/>
<rect x="457.6" y="1014.2" width="29.3" height="69.2" fill="#4e443c"/>
<rect x="486.2" y="1014.2" width="29.3" height="69.2" fill="#54483e"/>
<rect x="514.9" y="1014.2" width="29.3" height="69.2" fill="#584c40"/>
<rect x="543.6" y="1014.2" width="29.3" height="69.2" fill="#5a4e42"/>
<rect x="572.3" y="1014.2" width="29.3" height="69.2" fill="#5e5246"/>
<rect x="601.0" y="1014.2" width="29.3" height="69.2" fill="#5a4e42"/>
<rect x="629.7" y="1014.2" width="29.3" height="69.2" fill="#5a4e42"/>
<rect x="658.3" y="1014.2" width="29.3" height="69.2" fill="#54483e"/>
<rect x="687.0" y="1014.2" width="29.3" height="69.2" fill="#4a3e34"/>
<rect x="715.7" y="1014.2" width="69.3" height="69.2" fill="#5a4e42"/>
</g>
<g transform="translate(400.2,814.0)"><g filter="url(#dblur)"><path d="M0 0 L20 0 Q16 60 18 120 Q20 180 24 229 L0 229Z" fill="#8e8c82"/>
<path d="M20 0 L40 0 Q30 60 32 120 Q34 180 40 229 L24 229 Q20 180 18 120 Q16 60 20 0Z" fill="#3c342c"/>
<path d="M292 0 L345 0 L345 229 L300 229 Q292 120 292 0Z" fill="#3a2f27" opacity="0.85"/></g></g>

</g>
<rect x="458.2" y="996.4" width="231.0" height="37.7" fill="#fff"/>
<text x="573.7" y="1025.4" font-size="33.3" fill="#0000ff" text-anchor="middle">(b) DK156~157</text>
<clipPath id="pcc"><rect x="764.1" y="814.0" width="344.3" height="228.8"/></clipPath>
<g clip-path="url(#pcc)"><g filter="url(#pblur)">
<rect x="724.1" y="774.0" width="69.3" height="69.2" fill="#56585e"/>
<rect x="792.8" y="774.0" width="29.3" height="69.2" fill="#505258"/>
<rect x="821.5" y="774.0" width="29.3" height="69.2" fill="#3a3a3e"/>
<rect x="850.2" y="774.0" width="29.3" height="69.2" fill="#1e1e20"/>
<rect x="878.9" y="774.0" width="29.3" height="69.2" fill="#222224"/>
<rect x="907.6" y="774.0" width="29.3" height="69.2" fill="#2a2a2c"/>
<rect x="936.2" y="774.0" width="29.3" height="69.2" fill="#3a3a3a"/>
<rect x="964.9" y="774.0" width="29.3" height="69.2" fill="#303030"/>
<rect x="993.6" y="774.0" width="29.3" height="69.2" fill="#2a2a2a"/>
<rect x="1022.3" y="774.0" width="29.3" height="69.2" fill="#242424"/>
<rect x="1051.0" y="774.0" width="29.3" height="69.2" fill="#1e1e1e"/>
<rect x="1079.7" y="774.0" width="69.3" height="69.2" fill="#1a1a1a"/>
<rect x="724.1" y="842.6" width="69.3" height="29.2" fill="#5a5c62"/>
<rect x="792.8" y="842.6" width="29.3" height="29.2" fill="#585a60"/>
<rect x="821.5" y="842.6" width="29.3" height="29.2" fill="#2a2a2e"/>
<rect x="850.2" y="842.6" width="29.3" height="29.2" fill="#2e2e32"/>
<rect x="878.9" y="842.6" width="29.3" height="29.2" fill="#45474c"/>
<rect x="907.6" y="842.6" width="29.3" height="29.2" fill="#404246"/>
<rect x="936.2" y="842.6" width="29.3" height="29.2" fill="#3e3e42"/>
<rect x="964.9" y="842.6" width="29.3" height="29.2" fill="#3a3a3e"/>
<rect x="993.6" y="842.6" width="29.3" height="29.2" fill="#2a2a2c"/>
<rect x="1022.3" y="842.6" width="29.3" height="29.2" fill="#222224"/>
<rect x="1051.0" y="842.6" width="29.3" height="29.2" fill="#1e1e20"/>
<rect x="1079.7" y="842.6" width="69.3" height="29.2" fill="#262628"/>
<rect x="724.1" y="871.2" width="69.3" height="29.2" fill="#5e6066"/>
<rect x="792.8" y="871.2" width="29.3" height="29.2" fill="#5a5c62"/>
<rect x="821.5" y="871.2" width="29.3" height="29.2" fill="#2a2a2c"/>
<rect x="850.2" y="871.2" width="29.3" height="29.2" fill="#303034"/>
<rect x="878.9" y="871.2" width="29.3" height="29.2" fill="#4a4c52"/>
<rect x="907.6" y="871.2" width="29.3" height="29.2" fill="#505258"/>
<rect x="936.2" y="871.2" width="29.3" height="29.2" fill="#505258"/>
<rect x="964.9" y="871.2" width="29.3" height="29.2" fill="#56585e"/>
<rect x="993.6" y="871.2" width="29.3" height="29.2" fill="#505258"/>
<rect x="1022.3" y="871.2" width="29.3" height="29.2" fill="#303032"/>
<rect x="1051.0" y="871.2" width="29.3" height="29.2" fill="#1e1e20"/>
<rect x="1079.7" y="871.2" width="69.3" height="29.2" fill="#222224"/>
<rect x="724.1" y="899.8" width="69.3" height="29.2" fill="#5a5c62"/>
<rect x="792.8" y="899.8" width="29.3" height="29.2" fill="#5e6066"/>
<rect x="821.5" y="899.8" width="29.3" height="29.2" fill="#303034"/>
<rect x="850.2" y="899.8" width="29.3" height="29.2" fill="#2a2a2e"/>
<rect x="878.9" y="899.8" width="29.3" height="29.2" fill="#44464c"/>
<rect x="907.6" y="899.8" width="29.3" height="29.2" fill="#565860"/>
<rect x="936.2" y="899.8" width="29.3" height="29.2" fill="#56585e"/>
<rect x="964.9" y="899.8" width="29.3" height="29.2" fill="#5b5d64"/>
<rect x="993.6" y="899.8" width="29.3" height="29.2" fill="#5b5d64"/>
<rect x="1022.3" y="899.8" width="29.3" height="29.2" fill="#505258"/>
<rect x="1051.0" y="899.8" width="29.3" height="29.2" fill="#2a2a2e"/>
<rect x="1079.7" y="899.8" width="69.3" height="29.2" fill="#2e2e30"/>
<rect x="724.1" y="928.4" width="69.3" height="29.2" fill="#505258"/>
<rect x="792.8" y="928.4" width="29.3" height="29.2" fill="#3a3a3e"/>
<rect x="821.5" y="928.4" width="29.3" height="29.2" fill="#2a2a2c"/>
<rect x="850.2" y="928.4" width="29.3" height="29.2" fill="#2a2a2e"/>
<rect x="878.9" y="928.4" width="29.3" height="29.2" fill="#242428"/>
<rect x="907.6" y="928.4" width="29.3" height="29.2" fill="#565860"/>
<rect x="936.2" y="928.4" width="29.3" height="29.2" fill="#54565c"/>
<rect x="964.9" y="928.4" width="29.3" height="29.2" fill="#505258"/>
<rect x="993.6" y="928.4" width="29.3" height="29.2" fill="#565860"/>
<rect x="1022.3" y="928.4" width="29.3" height="29.2" fill="#565860"/>
<rect x="1051.0" y="928.4" width="29.3" height="29.2" fill="#3a3c3e"/>
<rect x="1079.7" y="928.4" width="69.3" height="29.2" fill="#444444"/>
<rect x="724.1" y="957.0" width="69.3" height="29.2" fill="#4a4c52"/>
<rect x="792.8" y="957.0" width="29.3" height="29.2" fill="#2a2a2e"/>
<rect x="821.5" y="957.0" width="29.3" height="29.2" fill="#1e1e22"/>
<rect x="850.2" y="957.0" width="29.3" height="29.2" fill="#262628"/>
<rect x="878.9" y="957.0" width="29.3" height="29.2" fill="#2e2e32"/>
<rect x="907.6" y="957.0" width="29.3" height="29.2" fill="#505258"/>
<rect x="936.2" y="957.0" width="29.3" height="29.2" fill="#4b4d52"/>
<rect x="964.9" y="957.0" width="29.3" height="29.2" fill="#505258"/>
<rect x="993.6" y="957.0" width="29.3" height="29.2" fill="#505258"/>
<rect x="1022.3" y="957.0" width="29.3" height="29.2" fill="#54565c"/>
<rect x="1051.0" y="957.0" width="29.3" height="29.2" fill="#404244"/>
<rect x="1079.7" y="957.0" width="69.3" height="29.2" fill="#3e3e40"/>
<rect x="724.1" y="985.6" width="69.3" height="29.2" fill="#4e5056"/>
<rect x="792.8" y="985.6" width="29.3" height="29.2" fill="#404246"/>
<rect x="821.5" y="985.6" width="29.3" height="29.2" fill="#303034"/>
<rect x="850.2" y="985.6" width="29.3" height="29.2" fill="#2a2a2e"/>
<rect x="878.9" y="985.6" width="29.3" height="29.2" fill="#2e2e32"/>
<rect x="907.6" y="985.6" width="29.3" height="29.2" fill="#3a3a3e"/>
<rect x="936.2" y="985.6" width="29.3" height="29.2" fill="#3e4044"/>
<rect x="964.9" y="985.6" width="29.3" height="29.2" fill="#404246"/>
<rect x="993.6" y="985.6" width="29.3" height="29.2" fill="#3e4044"/>
<rect x="1022.3" y="985.6" width="29.3" height="29.2" fill="#3a3c3e"/>
<rect x="1051.0" y="985.6" width="29.3" height="29.2" fill="#45474a"/>
<rect x="1079.7" y="985.6" width="69.3" height="29.2" fill="#3a3a3c"/>
<rect x="724.1" y="1014.2" width="69.3" height="69.2" fill="#45474c"/>
<rect x="792.8" y="1014.2" width="29.3" height="69.2" fill="#2e2e32"/>
<rect x="821.5" y="1014.2" width="29.3" height="69.2" fill="#2a2a2e"/>
<rect x="850.2" y="1014.2" width="29.3" height="69.2" fill="#262628"/>
<rect x="878.9" y="1014.2" width="29.3" height="69.2" fill="#2a2a2c"/>
<rect x="907.6" y="1014.2" width="29.3" height="69.2" fill="#2e2e30"/>
<rect x="936.2" y="1014.2" width="29.3" height="69.2" fill="#303032"/>
<rect x="964.9" y="1014.2" width="29.3" height="69.2" fill="#2e2e30"/>
<rect x="993.6" y="1014.2" width="29.3" height="69.2" fill="#2c2c2e"/>
<rect x="1022.3" y="1014.2" width="29.3" height="69.2" fill="#303032"/>
<rect x="1051.0" y="1014.2" width="29.3" height="69.2" fill="#404042"/>
<rect x="1079.7" y="1014.2" width="69.3" height="69.2" fill="#38383a"/>
</g>

</g>
<rect x="819.3" y="996.4" width="230.6" height="37.7" fill="#fff"/>
<text x="934.6" y="1025.4" font-size="33.3" fill="#0000ff" text-anchor="middle">(c) DK159~160</text>
</svg>
</body></html>
